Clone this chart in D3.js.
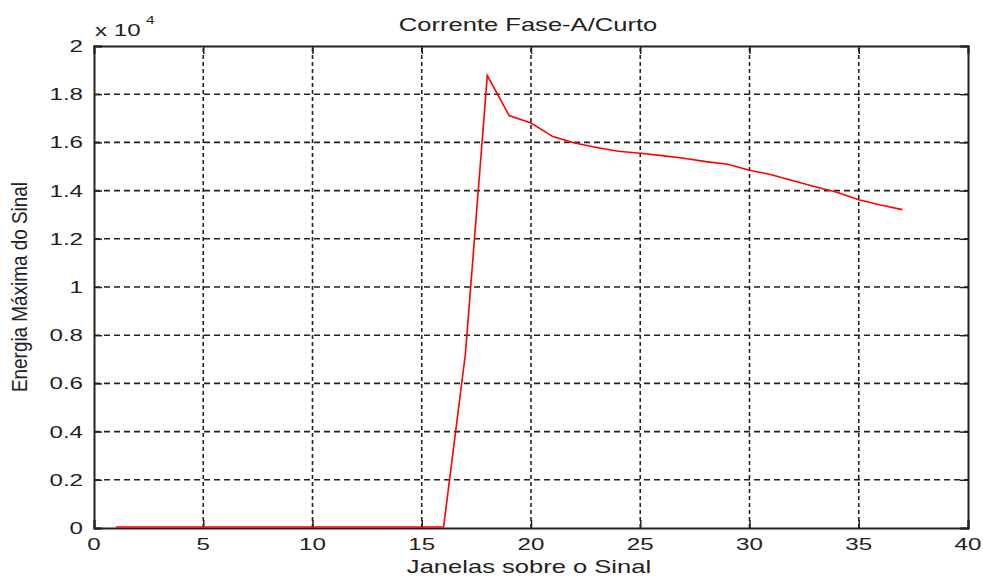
<!DOCTYPE html>
<html>
  <head>
    <script src="https://d3js.org/d3.v7.min.js"></script>
    <style>
      body { margin: 0; background: #fff; }
      text { font-family: "Liberation Sans", Arial, sans-serif; fill: #222; }
    </style>
  </head>
  <body>
<script type="text/javascript">
// janelas (x) e energia maxima (y)
var janelas = [1, 2, 3, 4, 5, 6, 7, 8, 9, 10, 11, 12, 13, 14, 15, 16, 17, 18, 19, 20,
               21, 22, 23, 24, 25, 26, 27, 28, 29, 30, 31, 32, 33, 34, 35, 36, 37];
var energia = [0, 0, 0, 0, 0, 0, 0, 0, 0, 0, 0, 0, 0, 0, 0, 0, 7200, 18730, 17070, 16760,
               16200, 15930, 15750, 15590, 15510, 15410, 15300, 15160, 15050, 14800, 14620, 14370,
               14120, 13890, 13580, 13360, 13170];
var xTicks = [0, 5, 10, 15, 20, 25, 30, 35, 40];
var yTicks = [0, 2000, 4000, 6000, 8000, 10000, 12000, 14000, 16000, 18000, 20000];

var width = 983, height = 580;
var margin = {top: 46, right: 15, bottom: 52, left: 94};
var sx = 1.42; // texto esticado na horizontal

var svg = d3.select('body').append('svg')
    .attr('width', width)
    .attr('height', height);

var x = d3.scaleLinear().domain([0, 40]).range([margin.left, width - margin.right]);
var y = d3.scaleLinear().domain([0, 20000]).range([height - margin.bottom, margin.top]);

function label(g, px, py, txt, anchor, size) {
  return g.append('text')
      .attr('transform', 'translate(' + px + ',' + py + ') scale(' + sx + ',1)')
      .attr('text-anchor', anchor)
      .style('font-size', size + 'px')
      .text(txt);
}

// grade
var grid = svg.append('g');
grid.selectAll('line.gx')
    .data(xTicks.slice(1, -1))
    .enter().append('line')
    .attr('x1', function(d) { return x(d); })
    .attr('x2', function(d) { return x(d); })
    .attr('y1', y(0)).attr('y2', y(20000))
    .attr('stroke', '#222').attr('stroke-width', 1.6)
    .attr('stroke-dasharray', '4,3');
grid.selectAll('line.gy')
    .data(yTicks.slice(1, -1))
    .enter().append('line')
    .attr('y1', function(d) { return y(d); })
    .attr('y2', function(d) { return y(d); })
    .attr('x1', x(0)).attr('x2', x(40))
    .attr('stroke', '#222').attr('stroke-width', 1.6)
    .attr('stroke-dasharray', '6,4');

// eixos (caixa com ticks para dentro)
var axes = svg.append('g');
axes.append('g')
    .attr('transform', 'translate(0,' + y(0) + ')')
    .call(d3.axisBottom(x).tickValues(xTicks).tickSize(-8).tickFormat(''));
axes.append('g')
    .attr('transform', 'translate(0,' + y(20000) + ')')
    .call(d3.axisTop(x).tickValues(xTicks).tickSize(-8).tickFormat(''));
axes.append('g')
    .attr('transform', 'translate(' + x(0) + ',0)')
    .call(d3.axisLeft(y).tickValues(yTicks).tickSize(-8).tickFormat(''));
axes.append('g')
    .attr('transform', 'translate(' + x(40) + ',0)')
    .call(d3.axisRight(y).tickValues(yTicks).tickSize(-8).tickFormat(''));
axes.selectAll('path.domain').attr('stroke', '#222').attr('stroke-width', 2);
axes.selectAll('.tick line').attr('stroke', '#222').attr('stroke-width', 1.5);

// linha (por cima dos eixos)
var line = d3.line()
    .x(function(d, i) { return x(janelas[i]); })
    .y(function(d) { return y(d) - 1; });
svg.append('path')
    .datum(energia)
    .attr('d', line)
    .attr('fill', 'none')
    .attr('stroke', '#ff0000')
    .attr('stroke-width', 1.6);

// rotulos dos ticks
var tl = svg.append('g');
xTicks.forEach(function(d) {
  label(tl, x(d), 550, String(d), 'middle', 17);
});
yTicks.forEach(function(d) {
  label(tl, 83, y(d) + 6, String(+(d / 1e4).toFixed(1)), 'end', 17);
});

// expoente
label(svg, 95, 36, 'x 10', 'start', 17);
label(svg, 146, 24, '4', 'start', 11);

// titulos
label(svg, 528, 31, 'Corrente Fase-A/Curto', 'middle', 18);
label(svg, 529, 573, 'Janelas sobre o Sinal', 'middle', 18);
svg.append('text')
    .attr('transform', 'translate(27,' + ((y(0) + y(20000)) / 2) + ') rotate(-90) scale(1.05,1.2)')
    .attr('text-anchor', 'middle')
    .style('font-size', '18px')
    .text('Energia Máxima do Sinal');
</script>
  </body>
</html>
